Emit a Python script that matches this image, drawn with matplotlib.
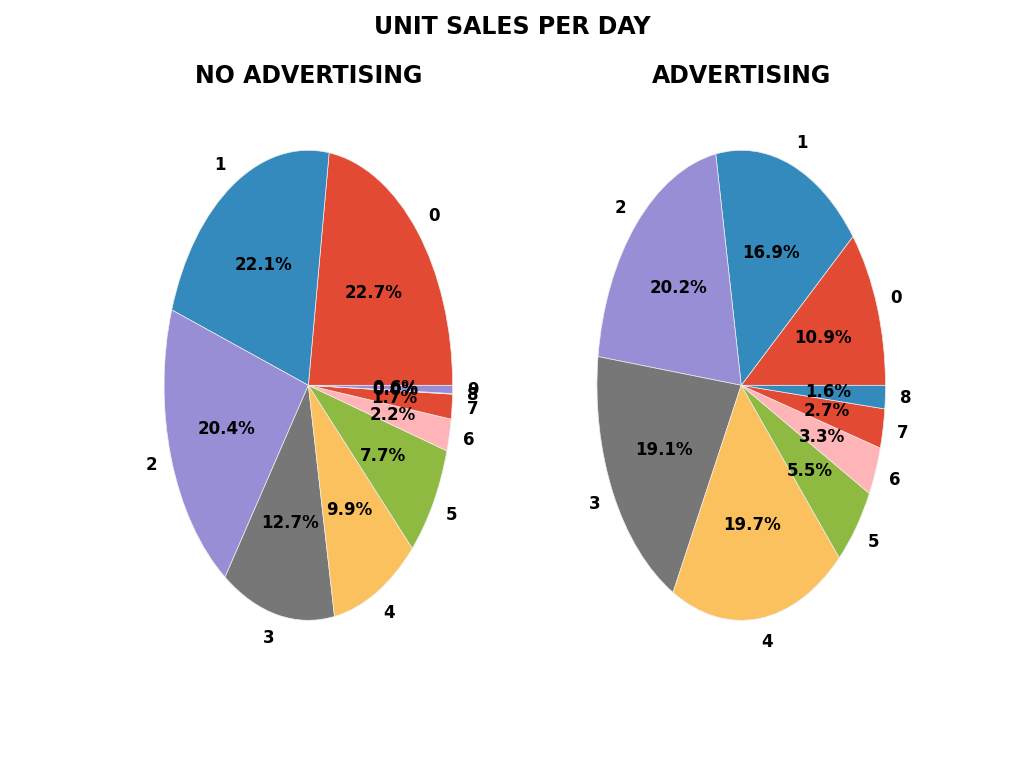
import matplotlib.pyplot as plt

# unit sales per day (share of days, %)
labels_no_ad = ['0', '1', '2', '3', '4', '5', '6', '7', '8', '9']
share_no_ad = [22.7, 22.1, 20.4, 12.7, 9.9, 7.7, 2.2, 1.7, 0.04, 0.56]

labels_ad = ['0', '1', '2', '3', '4', '5', '6', '7', '8']
share_ad = [10.9, 16.9, 20.2, 19.1, 19.7, 5.5, 3.3, 2.7, 1.6]

colors = ['#E24A33', '#348ABD', '#988ED5', '#777777', '#FBC15E',
          '#8EBA42', '#FFB5B8']

plt.rcParams['font.weight'] = 'bold'
fig, axes = plt.subplots(1, 2, figsize=(10.24, 7.63), dpi=100)
fig.suptitle('UNIT SALES PER DAY', fontsize=17, fontweight='bold')

for ax, vals, labs, title in [(axes[0], share_no_ad, labels_no_ad, 'NO ADVERTISING'),
                              (axes[1], share_ad, labels_ad, 'ADVERTISING')]:
    ax.pie(vals, labels=labs, autopct='%1.1f%%', colors=colors,
           wedgeprops={'edgecolor': '#EEEEEE', 'linewidth': 0.5},
           textprops={'fontsize': 12, 'fontweight': 'bold'})
    ax.set_aspect('auto')
    ax.set_title(title, fontsize=17, fontweight='bold')

plt.savefig('out.png')
